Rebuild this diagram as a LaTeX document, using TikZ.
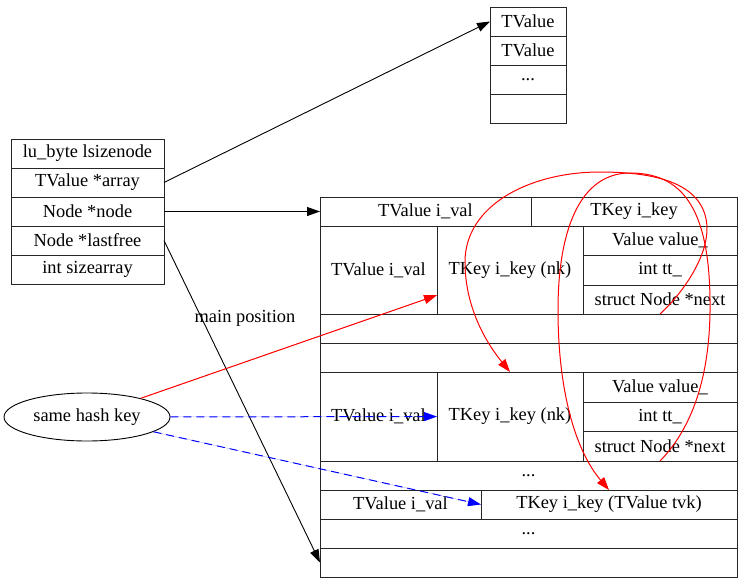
\documentclass[tikz,border=0pt]{standalone}
\usepackage{fontspec}
\setmainfont{Liberation Serif}
\usetikzlibrary{arrows.meta,shapes.geometric}
\newcommand\mycell[6]{\node[cell, minimum width={#4pt-#2pt}, minimum height={#5pt-#3pt}] (#1) at ({(#2+#4)/2},{(#3+#5)/2}) {#6};}
\begin{document}
\begin{tikzpicture}[x=1pt,y=-1pt,
  txt/.style={font=\fontsize{18.4}{22}\selectfont},
  cell/.style={txt, draw=black!85, line width=0.9pt, rectangle, inner sep=0pt, outer sep=0pt},
  tip/.style={-{Triangle[length=13pt,width=9pt]}},
  edge/.style={tip, draw=black, line width=0.9pt},
  rededge/.style={tip, draw=red, fill=red, line width=1pt},
  blueedge/.style={tip, draw=blue, fill=blue, line width=1pt, dash pattern=on 8pt off 5pt}]
\useasboundingbox (0,0) rectangle (742,584);
% top array
\mycell{a1}{490}{7}{566}{36}{TValue}
\mycell{a2}{490}{36}{566}{65}{TValue}
\mycell{a3}{490}{65}{566}{94}{...}
\mycell{a4}{490}{94}{566}{123}{}
% left struct
\mycell{t1}{11}{139}{164}{168}{lu\_byte lsizenode}
\mycell{t2}{11}{168}{164}{197}{TValue *array}
\mycell{t3}{11}{197}{164}{226}{Node *node}
\mycell{t4}{11}{226}{164}{255}{Node *lastfree}
\mycell{t5}{11}{255}{164}{284}{int sizearray}
% big table
\mycell{r1a}{320}{197}{531}{226}{TValue i\_val}
\mycell{r1b}{531}{197}{737}{226}{TKey i\_key}
\mycell{r2a}{320}{226}{437}{314}{TValue i\_val}
\mycell{nkA}{437}{226}{583}{314}{TKey i\_key (nk)}
\mycell{vA}{583}{226}{737}{255}{Value value\_}
\mycell{ttA}{583}{255}{737}{285}{int tt\_}
\mycell{nextA}{583}{285}{737}{314}{struct Node *next}
\mycell{r3}{320}{314}{737}{343}{}
\mycell{r4}{320}{343}{737}{372}{}
\mycell{r5a}{320}{372}{437}{461}{TValue i\_val}
\mycell{nkB}{437}{372}{583}{461}{TKey i\_key (nk)}
\mycell{vB}{583}{372}{737}{402}{Value value\_}
\mycell{ttB}{583}{402}{737}{431}{int tt\_}
\mycell{nextB}{583}{431}{737}{461}{struct Node *next}
\mycell{r6}{320}{461}{737}{490}{...}
\mycell{r7a}{320}{490}{481}{519}{TValue i\_val}
\mycell{tvk}{481}{490}{737}{519}{TKey i\_key (TValue tvk)}
\mycell{r8}{320}{519}{737}{548}{...}
\mycell{r9}{320}{548}{737}{577}{}
% ellipse
\node[txt, draw, ellipse, line width=0.9pt, inner sep=0pt, minimum width=166pt, minimum height=48pt] (ell) at (87,417) {same hash key};
\node[txt] (mp) at (245,318) {main position};
% edges
\draw[edge] (t2.east) -- (a1.west);
\draw[edge] (t3.east) -- (r1a.west);
\draw[edge] (t4.east) -- (r9.west);
\draw[rededge] (ell) -- (nkA);
\draw[blueedge] (ell) -- (nkB);
\draw[blueedge] (ell) -- (tvk.west);
\draw[rededge, fill=none] (nextA.south) .. controls (685,291) and (708,255) .. (707,227)
  .. controls (705,185) and (660,172) .. (600,172)
  .. controls (530,172) and (465,205) .. (465,262)
  .. controls (465,300) and (480,335) .. (nkB.north);
\draw[rededge, fill=none] (nextB.south) .. controls (695,425) and (711,370) .. (710,300)
  .. controls (709,205) and (680,173) .. (630,173)
  .. controls (580,173) and (558,230) .. (558,310)
  .. controls (558,390) and (575,450) .. (tvk.north);
\end{tikzpicture}
\end{document}
